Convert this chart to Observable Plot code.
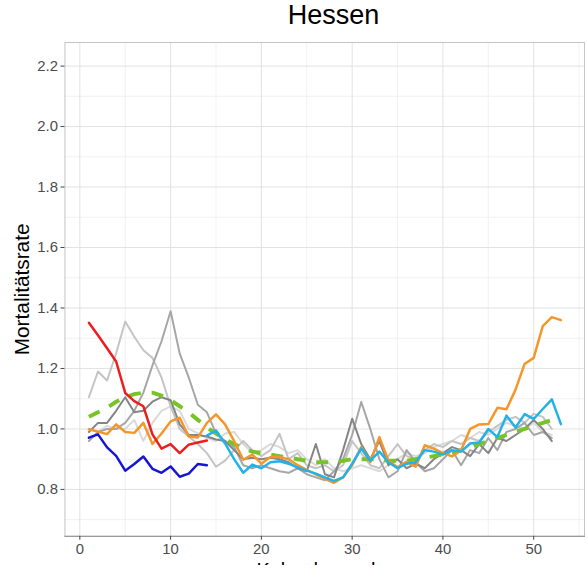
<!DOCTYPE html>
<html>
<head>
<meta charset="utf-8">
<script src="https://cdn.jsdelivr.net/npm/d3@7"></script>
<script src="https://cdn.jsdelivr.net/npm/@observablehq/plot@0.6"></script>
<style>
  html, body { margin: 0; padding: 0; overflow: hidden; background: #fff; }
  #title {
    width: 587px; height: 42px; box-sizing: border-box; padding-left: 80px;
    text-align: center; line-height: 43px; color: #000;
    font: 27px "Liberation Sans", Arial, sans-serif;
  }
  #chart svg { display: block; }
</style>
</head>
<body>
<div id="title">Hessen</div>
<div id="chart"></div>
<script>
// Wöchentliche Mortalitätsrate, Hessen (Kalenderwoche → Rate)
const xTicks = [0, 10, 20, 30, 40, 50];
const xMinorTicks = [5, 15, 25, 35, 45, 55];
const yTicks = [0.8, 1.0, 1.2, 1.4, 1.6, 1.8, 2.0, 2.2];
const yMinorTicks = [0.7, 0.9, 1.1, 1.3, 1.5, 1.7, 1.9, 2.1];

// Frühere Jahre (grau), jeweils ab KW 1
const grayLight1 = [1.105, 1.19, 1.16, 1.25, 1.355, 1.305, 1.26, 1.235, 1.17, 1.075, 1.0, 0.975, 0.95, 0.92, 0.875, 0.895, 0.93, 0.96, 0.93, 0.91, 0.93, 0.984, 0.9, 0.92, 0.88, 0.87, 0.88, 0.86, 0.88, 0.96, 0.92, 0.88, 0.87, 0.91, 0.95, 0.91, 0.9, 0.93, 0.95, 0.94, 0.96, 0.95, 0.97, 0.96, 0.99, 1.01, 1.03, 1.04, 1.02, 1.05, 1.04, 1.0];
const grayLight2 = [1.0, 0.99, 1.01, 1.0, 1.0, 1.03, 0.96, 1.02, 1.06, 1.075, 1.06, 1.0, 0.985, 0.97, 0.96, 0.985, 0.99, 0.95, 0.92, 0.93, 0.95, 0.94, 0.92, 0.93, 0.9, 0.88, 0.9, 0.87, 0.86, 0.87, 0.88, 0.87, 0.86, 0.88, 0.9, 0.92, 0.91, 0.92, 0.94, 0.95, 0.96, 0.98, 0.97, 0.99, 0.98, 1.0, 1.02, 1.01, 1.0, 1.02, 0.99, 0.98];
const grayMid = [0.96, 0.99, 1.0, 1.0, 1.02, 1.06, 1.12, 1.21, 1.29, 1.389, 1.25, 1.17, 1.08, 1.055, 0.985, 0.96, 0.94, 0.88, 0.87, 0.88, 0.87, 0.86, 0.855, 0.87, 0.85, 0.84, 0.83, 0.86, 0.9, 0.98, 1.089, 1.0, 0.9, 0.84, 0.86, 0.93, 0.89, 0.86, 0.87, 0.9, 0.93, 0.88, 0.93, 0.92, 0.97, 0.93, 0.99, 1.0, 1.02, 0.98, 0.99, 0.97];
const grayDark = [0.99, 1.02, 1.02, 1.06, 1.105, 1.055, 1.06, 1.09, 1.105, 1.095, 1.015, 0.98, 0.98, 0.975, 0.965, 0.96, 0.93, 0.9, 0.905, 0.9, 0.905, 0.9, 0.89, 0.87, 0.86, 0.95, 0.85, 0.84, 0.93, 1.034, 0.95, 0.9, 0.96, 0.88, 0.9, 0.87, 0.885, 0.87, 0.9, 0.92, 0.94, 0.93, 0.91, 0.95, 0.92, 0.97, 0.96, 0.98, 1.0, 1.03, 1.0, 0.96];

// Mittelwert (grün gestrichelt), KW 1–52
const meanRate = [1.04, 1.055, 1.07, 1.09, 1.105, 1.115, 1.12, 1.12, 1.11, 1.095, 1.075, 1.055, 1.03, 1.005, 0.985, 0.965, 0.95, 0.935, 0.925, 0.92, 0.915, 0.91, 0.905, 0.9, 0.895, 0.89, 0.89, 0.89, 0.895, 0.9, 0.9, 0.9, 0.9, 0.895, 0.895, 0.895, 0.9, 0.905, 0.91, 0.915, 0.92, 0.93, 0.94, 0.95, 0.96, 0.97, 0.98, 0.99, 1.0, 1.01, 1.02, 1.03];

// Einzelne Jahre in Farbe
const orangeRate = [0.999, 0.991, 0.983, 1.015, 0.99, 0.987, 1.02, 0.95, 0.985, 1.025, 1.037, 0.975, 0.972, 1.02, 1.048, 1.015, 0.96, 0.898, 0.915, 0.885, 0.907, 0.907, 0.9, 0.88, 0.865, 0.85, 0.835, 0.822, 0.84, 0.88, 0.94, 0.89, 0.973, 0.895, 0.873, 0.892, 0.875, 0.946, 0.935, 0.92, 0.909, 0.929, 1.0, 1.015, 1.016, 1.07, 1.065, 1.13, 1.215, 1.235, 1.34, 1.37, 1.36];
const cyanStart = 14;
const cyanRate = [0.978, 0.995, 0.952, 0.9, 0.855, 0.882, 0.87, 0.89, 0.893, 0.885, 0.873, 0.862, 0.852, 0.84, 0.828, 0.84, 0.885, 0.935, 0.895, 0.925, 0.89, 0.87, 0.885, 0.89, 0.93, 0.925, 0.915, 0.93, 0.925, 0.952, 0.955, 1.0, 0.973, 1.044, 1.005, 1.049, 1.033, 1.066, 1.098, 1.016];
const redRate = [1.351, 1.31, 1.267, 1.223, 1.119, 1.092, 1.075, 0.982, 0.935, 0.95, 0.92, 0.948, 0.955, 0.962];
const blueRate = [0.971, 0.982, 0.939, 0.911, 0.862, 0.884, 0.909, 0.868, 0.855, 0.876, 0.842, 0.852, 0.884, 0.88];

const toRows = (values, start = 1) => values.map((value, i) => ({week: start + i, value}));

const grayStyles = [
  {data: toRows(grayLight2), stroke: "#dadada"},
  {data: toRows(grayLight1), stroke: "#c4c4c4"},
  {data: toRows(grayMid), stroke: "#a6a6a6"},
  {data: toRows(grayDark), stroke: "#858585"},
];

const chart = Plot.plot({
  width: 592,
  height: 527,
  marginLeft: 65,
  marginRight: 3,
  marginTop: 0,
  marginBottom: 29,
  x: {domain: [-1.64, 55.6]},
  y: {domain: [0.645, 2.278]},
  style: {
    fontFamily: "'Liberation Sans', Arial, sans-serif",
    fontSize: "15px",
    color: "#4d4d4d",
    background: "#fff",
    overflow: "visible"
  },
  marks: [
    Plot.gridY(yMinorTicks, {stroke: "#f1f1f1", strokeOpacity: 1}),
    Plot.gridX(xMinorTicks, {stroke: "#f1f1f1", strokeOpacity: 1}),
    Plot.gridY(yTicks, {stroke: "#e2e2e2", strokeOpacity: 1}),
    Plot.gridX(xTicks, {stroke: "#e2e2e2", strokeOpacity: 1}),
    Plot.frame({stroke: "#c4c4c4"}),
    Plot.frame({anchor: "bottom", stroke: "#8c8c8c"}),
    ...grayStyles.map(s => Plot.line(s.data, {x: "week", y: "value", stroke: s.stroke, strokeWidth: 2})),
    Plot.line(toRows(meanRate), {x: "week", y: "value", stroke: "#78c328", strokeWidth: 4, strokeDasharray: "12,11", strokeLinecap: "butt"}),
    Plot.line(toRows(orangeRate), {x: "week", y: "value", stroke: "#f5962b", strokeWidth: 2.5}),
    Plot.line(toRows(cyanRate, cyanStart), {x: "week", y: "value", stroke: "#21b3e8", strokeWidth: 2.5}),
    Plot.line(toRows(redRate), {x: "week", y: "value", stroke: "#ee1d1d", strokeWidth: 2.5}),
    Plot.line(toRows(blueRate), {x: "week", y: "value", stroke: "#1616d2", strokeWidth: 2.5}),
    Plot.axisY(yTicks, {tickFormat: d => d.toFixed(1), tickSize: 4, tickPadding: 3, stroke: "#444", label: null}),
    Plot.axisX(xTicks, {tickFormat: d => String(d), tickSize: 4, tickPadding: 3, stroke: "#444", label: null}),
    Plot.text(["Mortalitätsrate"], {frameAnchor: "left", dx: -43, rotate: -90, fontSize: 21, fill: "#000", textAnchor: "middle"}),
    Plot.text(["Kalenderwoche"], {frameAnchor: "bottom", dy: 27, lineAnchor: "top", fontSize: 20, fill: "#000"})
  ]
});
document.getElementById("chart").appendChild(chart);
</script>
</body>
</html>
